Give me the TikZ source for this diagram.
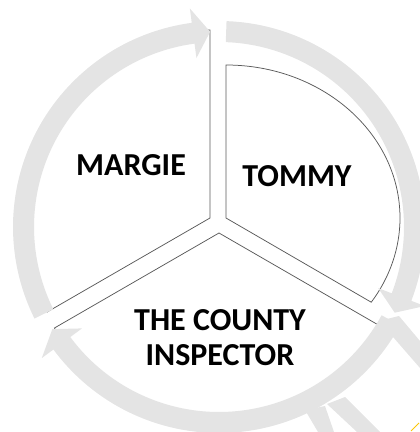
\documentclass[tikz,border=0pt]{standalone}
\usepackage{fontspec}
\newfontfamily\piecefont{Carlito}
\usetikzlibrary{positioning}
\definecolor{ringgray}{HTML}{E4E4E4}
\definecolor{edgegray}{HTML}{5A5A5A}

\begin{document}
\begin{tikzpicture}[
    x=1pt, y=1pt,
    sector/.style={draw=edgegray, line width=0.75pt, fill=white},
    ringarrow/.style={fill=ringgray},
    piecetext/.style={font=\piecefont\bfseries\fontsize{32}{35}\selectfont,
                      align=center}
  ]
  \useasboundingbox (0,0) rectangle (420,432);
  \clip (0,0) rectangle (420,432);

  % Pie pieces
  \draw[sector] (210,214) -- ++(0,188)
    arc[start angle=90, end angle=210, radius=188] -- cycle;
  \draw[sector] (219,199) -- ++(210:190)
    arc[start angle=210, end angle=330, radius=190] -- cycle;
  \draw[sector] (226,214) -- ++(0,153)
    arc[start angle=90, end angle=-33.4, x radius=174, y radius=153] -- cycle;

  % Ring arrows
  \coordinate (hub) at (219,205);
  \begin{scope}[shift={(hub)}]
    \fill[ringarrow] (206.4:206) arc[start angle=206.4, end angle=97.6, radius=206]
      -- (97.6:220.5) -- (92.6:195.5) -- (97.6:170.5) -- (97.6:185)
      arc[start angle=97.6, end angle=206.4, radius=185] -- cycle;
    \fill[ringarrow] (87.9:206) arc[start angle=87.9, end angle=-21, radius=206]
      -- (-21:220.5) -- (-26:195.5) -- (-21:170.5) -- (-21:185)
      arc[start angle=-21, end angle=87.9, radius=185] -- cycle;
    \fill[ringarrow] (-28.5:206) arc[start angle=-28.5, end angle=-143.5, radius=206]
      -- (-143.5:220.5) -- (-148.5:195.5) -- (-143.5:170.5) -- (-143.5:185)
      arc[start angle=-143.5, end angle=-28.5, radius=185] -- cycle;
  \end{scope}

  % Bits of the outer arrows
  \fill[ringarrow] (383,112) -- (399,116) -- (420,91) -- (420,64) -- (393,95) -- cycle;
  \fill[ringarrow] (305,22) -- (325,26) -- (334,0) -- (318,0) -- cycle;
  \fill[ringarrow] (327,28) -- (345,35) -- (380,0) -- (357,0) -- cycle;
  \draw[yellow!60!orange, line width=0.8pt] (411,1) -- (419,9);

  % Names
  \node[piecetext] (margie) at (131,267) {MARGIE};
  \node[piecetext] (tommy) at (297,256) {TOMMY};
  \node[piecetext] (county) at (220,94.5) {THE COUNTY\\INSPECTOR};
\end{tikzpicture}
\end{document}
